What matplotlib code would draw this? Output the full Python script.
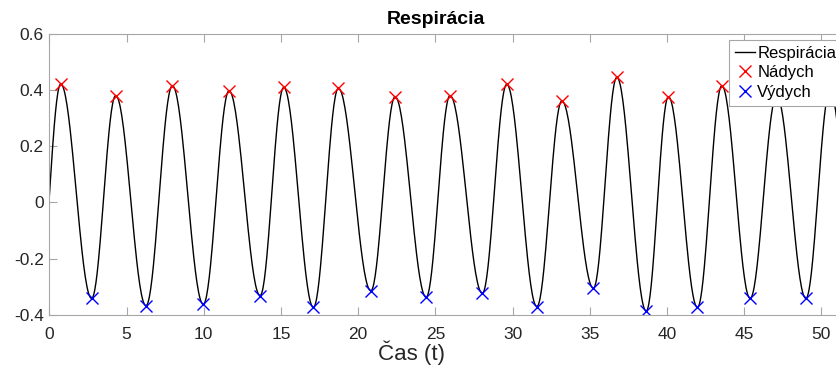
import numpy as np
import matplotlib
matplotlib.use("Agg")
import matplotlib.pyplot as plt

plt.rcParams['font.family'] = ['Liberation Sans', 'DejaVu Sans']

# inhale peaks (Nádych)
peak_t = [0.74, 4.30, 7.97, 11.64, 15.18, 18.72, 22.39, 25.95, 29.62, 33.19,
          36.75, 40.09, 43.55, 47.10, 50.55]
peak_v = [0.421, 0.380, 0.415, 0.397, 0.409, 0.406, 0.376, 0.380, 0.420, 0.361,
          0.445, 0.376, 0.415, 0.380, 0.400]
# exhale troughs (Výdych)
trough_t = [2.74, 6.26, 9.97, 13.65, 17.10, 20.82, 24.40, 28.04, 31.57, 35.23,
            38.65, 41.97, 45.38, 48.99]
trough_v = [-0.341, -0.367, -0.362, -0.331, -0.373, -0.314, -0.337, -0.323, -0.370,
            -0.305, -0.386, -0.373, -0.341, -0.341]
# edge points of the recording (outside the visible range)
edge_t = [-0.74, 52.35]
edge_v = [-0.38, -0.35]

# signal: smooth half-cosine strokes between consecutive extrema
ext_t = np.array([edge_t[0]] + [v for p in zip(peak_t, trough_t + [edge_t[1]]) for v in p])
ext_v = np.array([edge_v[0]] + [v for p in zip(peak_v, trough_v + [edge_v[1]]) for v in p])
t, s = [], []
for i in range(len(ext_t) - 1):
    u = np.linspace(0, 1, 40)
    t.append(ext_t[i] + (ext_t[i + 1] - ext_t[i]) * u)
    s.append(ext_v[i] + (ext_v[i + 1] - ext_v[i]) * (1 - np.cos(np.pi * u)) / 2)
t = np.concatenate(t)
s = np.concatenate(s)

W, H = 837, 367
fig = plt.figure(figsize=(W / 100, H / 100), dpi=100)
# axes runs a bit past the right edge of the image, as in the original crop
ax = fig.add_axes([0.0589, 0.1417, 0.965, 0.7665])
ax_w = 0.965 * W

ax.plot(t, s, color='k', lw=1, label='Respirácia')
ax.plot(peak_t[:-2], peak_v[:-2], 'x', color='red', ms=8, mew=1, label='Nádych')
ax.plot(trough_t, trough_v, 'x', color='blue', ms=8, mew=1, label='Výdych')

ax.set_xlim(0, 52.3)
ax.set_ylim(-0.4, 0.6)
ax.set_xticks(np.arange(0, 51, 5))
ax.set_yticks([-0.4, -0.2, 0, 0.2, 0.4, 0.6])
ax.set_yticklabels(['-0.4', '-0.2', '0', '0.2', '0.4', '0.6'])

gray = '#a6a6a6'
for sp in ax.spines.values():
    sp.set_color(gray)
    sp.set_linewidth(0.8)
ax.tick_params(direction='in', length=5.5, color=gray, labelsize=12.5,
               labelcolor='#262626', top=True, right=True)
ax.tick_params(axis='x', pad=9)
ax.tick_params(axis='y', pad=4)

ax.set_title('Respirácia', fontsize=14, fontweight='bold',
             x=(436 - 49.3) / ax_w, pad=7)
ax.set_xlabel('Čas (t)', fontsize=16, color='#262626')
ax.xaxis.set_label_coords((412 - 49.3) / ax_w, -0.092)

leg = ax.legend(loc='upper left', bbox_to_anchor=(729 / W, 1 - 40 / H),
                bbox_transform=fig.transFigure, borderaxespad=0,
                fontsize=12, frameon=True, fancybox=False, framealpha=1,
                borderpad=0.35, labelspacing=0.27, handlelength=1.2,
                handletextpad=0.15)
leg.get_frame().set_edgecolor(gray)
leg.get_frame().set_linewidth(0.8)

fig.savefig('out.png', dpi=100)
